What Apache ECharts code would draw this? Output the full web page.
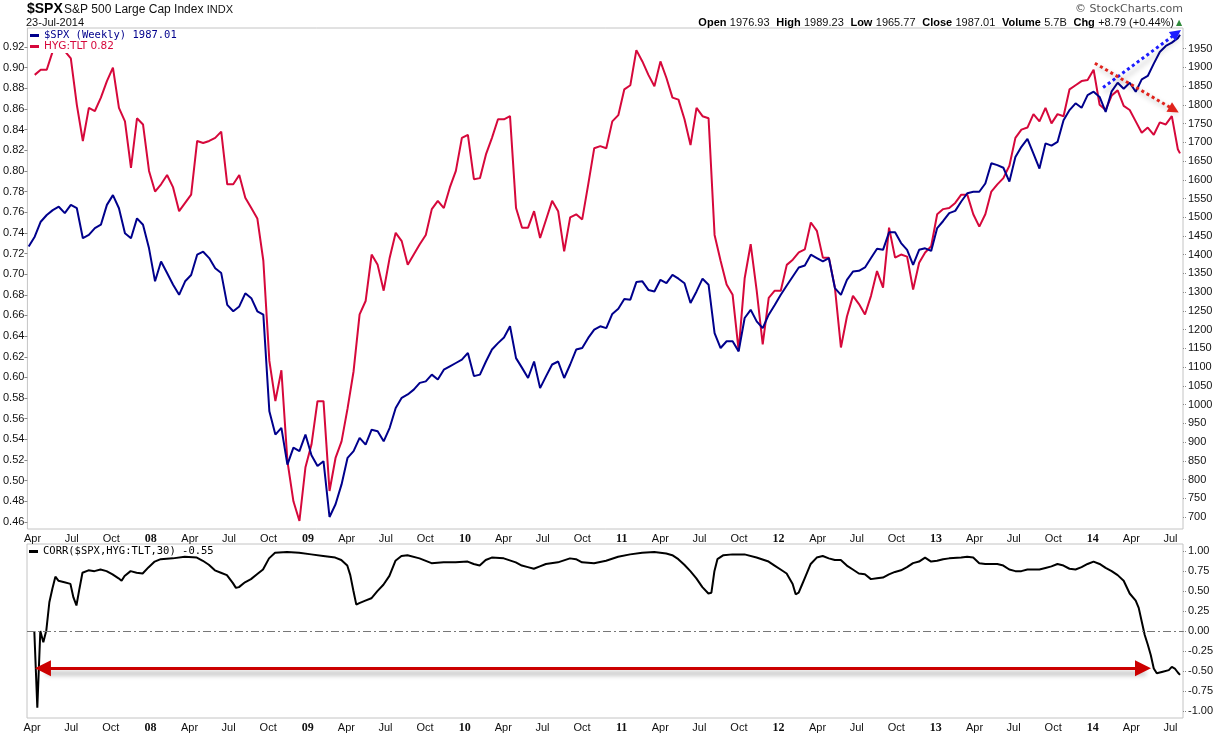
<!DOCTYPE html>
<html>
<head>
<meta charset="utf-8">
<title>$SPX vs HYG:TLT</title>
<script src="https://cdn.jsdelivr.net/npm/echarts@6/dist/echarts.min.js"></script>
<style>
  html, body { margin: 0; padding: 0; background: #fff; }
  #chart { width: 1219px; height: 734px; }
</style>
</head>
<body>
<div id="chart"></div>
<script>
// weekly chart, sampled every 2 weeks from 23-Mar-2007, last point 23-Jul-2014
const DAY = 86400000;
const startDate = Date.UTC(2007, 2, 23);
const lastDate = Date.UTC(2014, 6, 23);

const spxValues = [
  1422,1448,1488,1506,1519,1528,1511,1533,1524,1444,
  1453,1471,1480,1533,1559,1524,1457,1444,1497,1480,
  1417,1329,1382,1351,1320,1293,1329,1346,1400,1408,
  1391,1364,1351,1266,1249,1262,1297,1284,1249,1240,
  982,920,938,840,885,876,920,865,836,849,
  700,734,787,858,876,911,893,933,929,902,
  938,991,1018,1027,1040,1058,1062,1080,1067,1093,
  1102,1111,1120,1138,1076,1080,1115,1147,1164,1179,
  1209,1124,1098,1071,1115,1044,1076,1107,1115,1071,
  1107,1147,1151,1178,1200,1209,1204,1242,1256,1282,
  1280,1327,1329,1306,1302,1333,1324,1346,1336,1324,
  1271,1302,1336,1320,1191,1151,1169,1169,1142,1231,
  1253,1222,1204,1240,1266,1293,1318,1342,1366,1371,
  1400,1391,1382,1391,1311,1293,1333,1355,1357,1366,
  1391,1416,1413,1460,1460,1431,1413,1373,1413,1417,
  1410,1471,1490,1511,1517,1542,1564,1568,1568,1590,
  1644,1639,1632,1595,1661,1688,1709,1670,1630,1697,
  1691,1701,1759,1786,1804,1792,1826,1835,1821,1781,
  1836,1859,1843,1859,1835,1868,1877,1910,1941,1957,
  1966,1978,1987.01
];

const hygTltValues = [
  null,0.893,0.898,0.898,0.916,0.926,0.916,0.909,0.864,0.829,
  0.861,0.858,0.871,0.887,0.900,0.861,0.848,0.803,0.851,0.845,
  0.800,0.780,0.787,0.796,0.784,0.761,0.769,0.777,0.829,0.827,
  0.829,0.832,0.838,0.787,0.787,0.796,0.774,0.764,0.754,0.713,
  0.616,0.577,0.607,0.519,0.480,0.461,0.513,0.535,0.577,0.577,
  0.490,0.522,0.538,0.570,0.606,0.661,0.674,0.719,0.709,0.684,
  0.716,0.740,0.732,0.709,0.719,0.729,0.738,0.763,0.771,0.764,
  0.784,0.800,0.832,0.835,0.792,0.793,0.816,0.832,0.850,0.850,
  0.853,0.764,0.745,0.745,0.761,0.735,0.753,0.771,0.761,0.722,
  0.755,0.758,0.753,0.787,0.822,0.824,0.822,0.848,0.854,0.879,
  0.883,0.917,0.906,0.893,0.882,0.906,0.890,0.871,0.869,0.850,
  0.825,0.861,0.853,0.851,0.738,0.713,0.690,0.680,0.626,0.696,
  0.729,0.684,0.632,0.677,0.684,0.684,0.709,0.714,0.721,0.724,
  0.750,0.742,0.716,0.716,0.687,0.629,0.659,0.679,0.671,0.661,
  0.679,0.703,0.687,0.745,0.716,0.719,0.717,0.685,0.711,0.721,
  0.727,0.758,0.763,0.764,0.769,0.777,0.777,0.758,0.746,0.758,
  0.780,0.787,0.793,0.805,0.832,0.840,0.842,0.855,0.848,0.861,
  0.846,0.855,0.853,0.879,0.883,0.887,0.888,0.898,0.864,0.859,
  0.873,0.878,0.863,0.859,0.848,0.837,0.842,0.835,0.847,0.845,
  0.853,0.821,0.817
];

// correlation, week offsets from startDate
const corrWeeks = [
  2,3,4,5,6,7,8,9,10,12,14,15,16,17,18,20,22,24,26,28,30,31,32,34,36,38,40,42,44,48,
  52,56,58,60,62,64,66,68,69,70,72,74,76,78,80,82,86,90,94,98,102,104,106,107,108,109,110,112,114,116,
  118,120,122,124,126,130,134,138,142,146,148,150,152,154,158,162,164,166,168,170,172,176,180,182,184,188,192,196,200,204,
  208,212,214,216,218,220,222,224,226,227,228,229,231,234,238,242,246,248,250,252,254,255,256,257,258,260,262,264,266,268,
  270,272,274,276,278,280,282,284,286,288,290,292,294,296,298,300,302,304,306,310,312,314,316,318,322,324,326,328,330,332,
  336,338,340,342,344,346,348,350,352,354,356,358,360,362,364,366,368,369,370,371,372,373,374,375,377,379,380,381,382,382.714
];
const corrValues = [
  0.00,-0.96,0.00,-0.14,0.01,0.36,0.53,0.68,0.63,0.61,0.59,0.42,0.32,0.53,0.73,0.76,0.75,0.77,0.75,0.71,0.66,0.63,0.69,0.75,0.73,0.72,0.80,0.87,0.90,0.91,
  0.93,0.92,0.88,0.83,0.76,0.73,0.70,0.60,0.54,0.55,0.61,0.65,0.71,0.77,0.91,0.98,0.99,0.98,0.96,0.94,0.92,0.89,0.82,0.70,0.51,0.33,0.35,0.38,0.41,0.50,
  0.58,0.69,0.88,0.94,0.95,0.91,0.85,0.86,0.86,0.87,0.84,0.82,0.89,0.92,0.91,0.86,0.82,0.80,0.78,0.81,0.84,0.86,0.91,0.90,0.86,0.85,0.88,0.93,0.96,0.98,
  0.99,0.97,0.95,0.90,0.83,0.75,0.66,0.55,0.47,0.48,0.75,0.90,0.95,0.96,0.96,0.92,0.87,0.82,0.77,0.72,0.59,0.46,0.48,0.57,0.66,0.84,0.92,0.94,0.91,0.89,
  0.89,0.82,0.77,0.72,0.71,0.65,0.66,0.67,0.71,0.74,0.76,0.80,0.85,0.87,0.92,0.87,0.88,0.90,0.91,0.92,0.93,0.92,0.85,0.84,0.84,0.82,0.77,0.75,0.75,0.77,
  0.77,0.79,0.81,0.84,0.82,0.78,0.77,0.80,0.84,0.87,0.84,0.79,0.75,0.70,0.63,0.47,0.38,0.29,0.12,-0.05,-0.17,-0.30,-0.47,-0.53,-0.51,-0.49,-0.45,-0.47,-0.52,-0.55
];

const hygTicks = [0.46,0.48,0.50,0.52,0.54,0.56,0.58,0.60,0.62,0.64,0.66,0.68,0.70,0.72,0.74,0.76,0.78,0.80,0.82,0.84,0.86,0.88,0.90,0.92];
const spxTicks = [700,750,800,850,900,950,1000,1050,1100,1150,1200,1250,1300,1350,1400,1450,1500,1550,1600,1650,1700,1750,1800,1850,1900,1950];
const corrTicks = [-1,-0.75,-0.5,-0.25,0,0.25,0.5,0.75,1];
const monthLabels = { 3: 'Apr', 6: 'Jul', 9: 'Oct' };

// quarter ticks Apr 2007 .. Jul 2014
const quarterTicks = [];
for (let y = 2007; y <= 2014; y++) {
  for (let m = 0; m < 12; m += 3) {
    const t = Date.UTC(y, m, 1);
    if (t >= Date.UTC(2007, 3, 1) && t <= Date.UTC(2014, 6, 1)) quarterTicks.push(t);
  }
}

const priceDates = spxValues.map((v, i) => i < spxValues.length - 1 ? startDate + i * 14 * DAY : lastDate);
const corrDates = corrWeeks.map(w => startDate + w * 7 * DAY);

// annotation arrows (date, value)
const blueArrow = [[Date.UTC(2014, 0, 25), 1846], [Date.UTC(2014, 6, 15), 1991]];
const redArrow = [[Date.UTC(2014, 0, 6), 1911], [Date.UTC(2014, 6, 9), 1787]];
const corrArrow = [[Date.UTC(2007, 3, 26), -0.468], [Date.UTC(2014, 3, 28), -0.468]];

const BLUE = '#00008c';
const RED = '#d6083b';
const AXIS_FONT = 'Liberation Sans';

const spxLast = spxValues[spxValues.length - 1];
const hygLast = hygTltValues[hygTltValues.length - 1];
const corrLast = corrValues[corrValues.length - 1];

const xMin = Date.UTC(2007, 2, 20);
const xMax = Date.UTC(2014, 6, 30);

function xAxisFor(gridIndex) {
  // plain value axis in ms, labels only at quarter starts
  return {
    type: 'value', gridIndex: gridIndex, min: xMin, max: xMax,
    axisLine: { show: false },
    axisTick: { show: false },
    splitLine: { show: false },
    axisLabel: {
      customValues: quarterTicks,
      margin: 4,
      color: '#111',
      fontFamily: AXIS_FONT,
      fontSize: 11,
      hideOverlap: false,
      formatter: function (v) {
        const d = new Date(v);
        const m = d.getUTCMonth();
        if (m === 0) return '{yr|' + String(d.getUTCFullYear()).slice(2) + '}';
        return monthLabels[m];
      },
      rich: { yr: { fontFamily: 'Liberation Serif', fontWeight: 'bold', fontSize: 12, color: '#111' } }
    }
  };
}

const chart = echarts.init(document.getElementById('chart'));
chart.setOption({
  animation: false,
  backgroundColor: '#fff',
  grid: [
    { left: 27, right: 36, top: 28, height: 501, show: true, borderColor: '#c4c4c4', borderWidth: 1 },
    { left: 27, right: 36, top: 544, height: 175, show: true, borderColor: '#c4c4c4', borderWidth: 1 }
  ],
  xAxis: [xAxisFor(0), xAxisFor(1)],
  yAxis: [
    {
      type: 'value', gridIndex: 0, position: 'left', min: 0.4532, max: 0.9384,
      splitLine: { show: false }, axisLine: { show: false },
      axisTick: { show: true, customValues: hygTicks, length: 3, lineStyle: { color: '#888' } },
      axisLabel: { customValues: hygTicks, margin: 3, color: '#111', fontFamily: AXIS_FONT, fontSize: 11,
        formatter: v => v.toFixed(2) }
    },
    {
      type: 'value', gridIndex: 0, position: 'right', min: 668, max: 2005,
      splitLine: { show: false }, axisLine: { show: false },
      axisTick: { show: true, customValues: spxTicks, length: 3, lineStyle: { color: '#888', type: 'dotted' } },
      axisLabel: { customValues: spxTicks, margin: 5, color: '#111', fontFamily: AXIS_FONT, fontSize: 11,
        formatter: v => String(Math.round(v)) }
    },
    {
      type: 'value', gridIndex: 1, position: 'right', min: -1.09, max: 1.09,
      splitLine: { show: false }, axisLine: { show: false },
      axisTick: { show: true, customValues: corrTicks, length: 3, lineStyle: { color: '#888', type: 'dotted' } },
      axisLabel: { customValues: corrTicks, margin: 5, color: '#111', fontFamily: AXIS_FONT, fontSize: 11,
        formatter: v => v.toFixed(2) }
    }
  ],
  legend: [
    {
      left: 29, top: 30, orient: 'vertical', itemGap: 0, itemWidth: 9, itemHeight: 3,
      icon: 'rect', selectedMode: false, padding: [0, 3, 1, 1], backgroundColor: '#fff',
      data: [
        { name: '$SPX', textStyle: { fontFamily: 'DejaVu Sans Mono', fontSize: 10.5, color: BLUE, lineHeight: 10 } },
        { name: 'HYG:TLT', textStyle: { fontFamily: 'DejaVu Sans', fontSize: 10.5, color: RED, lineHeight: 10 } }
      ],
      formatter: function (name) {
        if (name === '$SPX') return '$SPX (Weekly) ' + spxLast.toFixed(2);
        return 'HYG:TLT ' + hygLast.toFixed(2);
      }
    },
    {
      left: 29, top: 546, orient: 'vertical', itemWidth: 9, itemHeight: 3,
      icon: 'rect', selectedMode: false, padding: 0,
      data: [{ name: 'CORR', textStyle: { fontFamily: 'DejaVu Sans Mono', fontSize: 10.5, color: '#000', lineHeight: 10 } }],
      formatter: () => 'CORR($SPX,HYG:TLT,30) ' + corrLast.toFixed(2)
    }
  ],
  graphic: [
    { type: 'text', x: 27, y: 9.5, style: { text: '$SPX', font: 'bold 14px "Liberation Sans"', fill: '#000', verticalAlign: 'middle' } },
    { type: 'text', x: 64, y: 10, style: {
        text: '{a|S&P 500 Large Cap Index} {b|INDX}', verticalAlign: 'middle',
        rich: { a: { fontFamily: 'Liberation Sans', fontSize: 12, fill: '#111' }, b: { fontFamily: 'Liberation Sans', fontSize: 11, fill: '#111' } } } },
    { type: 'text', x: 26, y: 22.5, style: { text: '23-Jul-2014', font: '11px "Liberation Sans"', fill: '#111', verticalAlign: 'middle' } },
    { type: 'text', x: 1183, y: 9, style: { text: '\u00a9 StockCharts.com', font: '11px "DejaVu Sans"', fill: '#555', align: 'right', verticalAlign: 'middle' } },
    { type: 'text', x: 1174, y: 22.5, style: {
        text: '{k|Open} {v|1976.93}  {k|High} {v|1989.23}  {k|Low} {v|1965.77}  {k|Close} {v|1987.01}  {k|Volume} {v|5.7B}  {k|Chg} {v|+8.79 (+0.44%)}',
        align: 'right', verticalAlign: 'middle',
        rich: {
          k: { fontFamily: 'Liberation Sans', fontWeight: 'bold', fontSize: 11, fill: '#000' },
          v: { fontFamily: 'Liberation Sans', fontSize: 11, fill: '#111' }
        } } },
    { type: 'text', x: 1176, y: 22.5, style: { text: '\u25b2', font: '8px "DejaVu Sans"', fill: '#2f8a3a', verticalAlign: 'middle' } }
  ],
  series: [
    {
      name: 'HYG:TLT', type: 'line', xAxisIndex: 0, yAxisIndex: 0, showSymbol: false, symbol: 'none',
      data: priceDates.map((d, i) => [d, hygTltValues[i]]),
      lineStyle: { color: RED, width: 2 }, itemStyle: { color: RED }
    },
    {
      name: '$SPX', type: 'line', xAxisIndex: 0, yAxisIndex: 1, showSymbol: false, symbol: 'none',
      data: priceDates.map((d, i) => [d, spxValues[i]]),
      lineStyle: { color: BLUE, width: 2 }, itemStyle: { color: BLUE },
      markLine: {
        silent: true, symbol: ['none', 'triangle'], symbolSize: 11, label: { show: false },
        data: [
          [
            { coord: blueArrow[0], lineStyle: { color: '#1c1cff', width: 3, type: [3, 3], shadowColor: 'rgba(0,0,0,0.3)', shadowBlur: 5, shadowOffsetX: 3, shadowOffsetY: 4 } },
            { coord: blueArrow[1] }
          ],
          [
            { coord: redArrow[0], lineStyle: { color: '#e0231c', width: 3, type: [3, 3], shadowColor: 'rgba(0,0,0,0.3)', shadowBlur: 5, shadowOffsetX: 3, shadowOffsetY: 4 } },
            { coord: redArrow[1] }
          ]
        ]
      }
    },
    {
      name: 'CORR', type: 'line', xAxisIndex: 1, yAxisIndex: 2, showSymbol: false, symbol: 'none',
      data: corrDates.map((d, i) => [d, corrValues[i]]),
      lineStyle: { color: '#000', width: 2 }, itemStyle: { color: '#000' },
      markLine: {
        silent: true, symbol: ['none', 'none'], label: { show: false },
        data: [
          { yAxis: 0, lineStyle: { color: '#777', width: 1, type: [8, 3, 2, 3] } },
          [
            { coord: corrArrow[0], symbol: 'triangle', symbolSize: 16,
              lineStyle: { color: '#cc0000', width: 3, type: 'solid', shadowColor: 'rgba(0,0,0,0.35)', shadowBlur: 5, shadowOffsetX: 3, shadowOffsetY: 5 } },
            { coord: corrArrow[1], symbol: 'triangle', symbolSize: 16 }
          ]
        ]
      }
    }
  ]
});
</script>
</body>
</html>
